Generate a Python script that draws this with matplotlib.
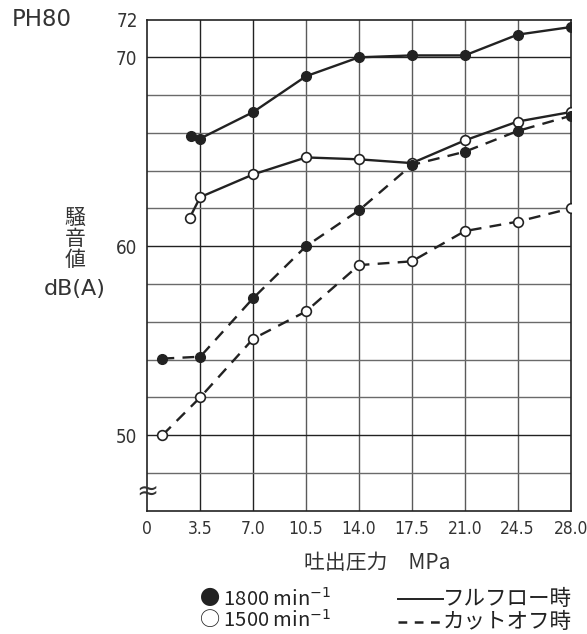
import numpy as np
import matplotlib
matplotlib.use("Agg")
import matplotlib.pyplot as plt
from matplotlib.lines import Line2D

# pressure (MPa) / noise level dB(A)
x_full_1800 = [2.9, 3.5, 7.0, 10.5, 14.0, 17.5, 21.0, 24.5, 28.0]
y_full_1800 = [65.85, 65.7, 67.1, 69.0, 70.0, 70.1, 70.1, 71.2, 71.6]

x_full_1500 = [2.8, 3.5, 7.0, 10.5, 14.0, 17.5, 21.0, 24.5, 28.0]
y_full_1500 = [61.5, 62.6, 63.8, 64.7, 64.6, 64.4, 65.6, 66.6, 67.1]

x_cut_1800 = [1.0, 3.5, 7.0, 10.5, 14.0, 17.5, 21.0, 24.5, 28.0]
y_cut_1800 = [54.05, 54.15, 57.25, 60.0, 61.9, 64.3, 65.0, 66.1, 66.9]

x_cut_1500 = [1.0, 3.5, 7.0, 10.5, 14.0, 17.5, 21.0, 24.5, 28.0]
y_cut_1500 = [50.0, 52.0, 55.1, 56.55, 59.0, 59.2, 60.8, 61.3, 62.0]

xticks = [0, 3.5, 7.0, 10.5, 14.0, 17.5, 21.0, 24.5, 28.0]
xticklabels = ["0", "3.5", "7.0", "10.5", "14.0", "17.5", "21.0", "24.5", "28.0"]
yticks = [50, 60, 70, 72]

JP = "Noto Sans CJK JP"
NUM = dict(family="DejaVu Sans", stretch="condensed")
TXT = "#333333"

fig = plt.figure(figsize=(5.87, 6.34), dpi=100)
ax = fig.add_axes([0.251, 0.1945, 0.721, 0.7747])
ax.set_xlim(0, 28)
ax.set_ylim(46, 72)

# grid
for gx in xticks[1:-1]:
    c = "#222222" if gx <= 7.0 else "#5a5a5a"
    ax.axvline(gx, color=c, lw=1.0, zorder=1)
for gy in range(48, 72, 2):
    c = "#222222" if gy % 10 == 0 else "#6a6a6a"
    ax.axhline(gy, color=c, lw=1.0, zorder=1)

for s in ax.spines.values():
    s.set_color("#222222")
    s.set_linewidth(1.2)

lw = 1.7
ms = 7
ax.plot(x_full_1800, y_full_1800, "-", color="#222222", lw=lw, marker="o",
        ms=ms, mfc="#222222", mec="#222222", zorder=3)
ax.plot(x_full_1500, y_full_1500, "-", color="#222222", lw=lw, marker="o",
        ms=ms, mfc="white", mec="#222222", mew=1.2, zorder=3)
ax.plot(x_cut_1800, y_cut_1800, color="#222222", lw=lw, ls=(0, (5, 3.5)),
        marker="o", ms=ms, mfc="#222222", mec="#222222", zorder=3)
ax.plot(x_cut_1500, y_cut_1500, color="#222222", lw=lw, ls=(0, (5, 3.5)),
        marker="o", ms=ms, mfc="white", mec="#222222", mew=1.2, zorder=3)

ax.set_xticks(xticks)
ax.set_xticklabels(xticklabels, fontdict=dict(size=12.5, **NUM), color=TXT)
ax.set_yticks(yticks)
ax.set_yticklabels([str(v) for v in yticks], fontdict=dict(size=13.5, **NUM), color=TXT)
ax.tick_params(length=0, pad=7)

# axis break mark
ax.text(0, 47.0, "≈", ha="center", va="center", fontsize=19, color=TXT,
        family="DejaVu Sans", transform=ax.transData, clip_on=False, zorder=5)

fig.text(12 / 587, 1 - 20 / 634, "PH80", family="DejaVu Sans", fontsize=16.5,
         color=TXT, va="center", ha="left")

fig.text(75 / 587, 1 - 239 / 634, "騒\n音\n値", family=JP, fontsize=15,
         color=TXT, va="center", ha="center", linespacing=0.95)
fig.text(75 / 587, 1 - 289 / 634, "dB(A)", family="DejaVu Sans", fontsize=16,
         color=TXT, va="center", ha="center")

fig.text(377 / 587, 1 - 563 / 634, "吐出圧力　MPa", family=[JP, "DejaVu Sans"],
         fontsize=15, color=TXT, va="center", ha="center")

# legend
LEG = "#222222"
fig.text(199 / 587, 1 - 598 / 634, "● 1800 min$^{-1}$", family=[JP, "DejaVu Sans"],
         fontsize=14.5, color=LEG, va="center", ha="left")
fig.text(199 / 587, 1 - 620 / 634, "○ 1500 min$^{-1}$", family=[JP, "DejaVu Sans"],
         fontsize=14.5, color=LEG, va="center", ha="left")
fig.add_artist(Line2D([398 / 587, 443 / 587], [1 - 599 / 634, 1 - 599 / 634],
                      color=LEG, lw=1.4))
fig.add_artist(Line2D([398 / 587, 443 / 587], [1 - 622 / 634, 1 - 622 / 634],
                      color=LEG, lw=1.8, ls=(0, (3.5, 3))))
fig.text(443 / 587, 1 - 599 / 634, "フルフロー時", family=JP, fontsize=15.5,
         color=LEG, va="center", ha="left")
fig.text(443 / 587, 1 - 622 / 634, "カットオフ時", family=JP, fontsize=15.5,
         color=LEG, va="center", ha="left")

fig.savefig("out.png", dpi=100, facecolor="white")
